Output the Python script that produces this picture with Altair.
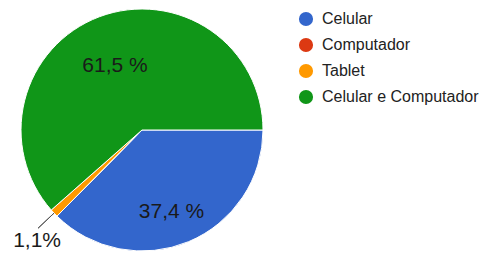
import math
import altair as alt
import pandas as pd

categories = ["Celular", "Computador", "Tablet", "Celular e Computador"]
percent = [37.4, 0.0, 1.1, 61.5]
labels = ["37,4 %", "", "1,1%", "61,5 %"]
colors = ["#3366cc", "#dc3912", "#ff9900", "#109618"]

df = pd.DataFrame({"cat": categories, "pct": percent, "label": labels, "order": list(range(4))})
df["end"] = df["pct"].cumsum() / 100
df["start"] = df["end"] - df["pct"] / 100
df["mid"] = (df["start"] + df["end"]) / 2

CX, CY, R = 134, 122, 121
theta_scale = alt.Scale(domain=[0, 1], range=[math.pi / 2, math.pi / 2 + 2 * math.pi])
color = alt.Color("cat:N", scale=alt.Scale(domain=categories, range=colors),
                  sort=categories,
                  legend=alt.Legend(title=None, orient="none", legendX=290, legendY=3,
                                    symbolType="circle", symbolSize=200, symbolStrokeWidth=0,
                                    labelFontSize=16, labelFont="Liberation Sans",
                                    labelColor="#222222", rowPadding=10, labelOffset=8,
                                    padding=0))

base = alt.Chart(df)

pie = base.mark_arc(outerRadius=R, stroke="white", strokeWidth=1).encode(
    x=alt.value(CX), y=alt.value(CY),
    theta=alt.Theta("start:Q", scale=theta_scale),
    theta2="end:Q",
    color=color,
)

leader = base.transform_filter("datum.cat == 'Tablet'").mark_arc(
    radius=R, radius2=143, stroke="#555555", strokeWidth=1, fillOpacity=0
).encode(
    x=alt.value(CX), y=alt.value(CY),
    theta=alt.Theta("mid:Q", scale=theta_scale),
    theta2="mid:Q",
)

def label_layer(cat, r, dx=0, dy=0):
    return base.transform_filter(f"datum.cat == '{cat}'").mark_text(
        radius=r, dx=dx, dy=dy, fontSize=21, font="Liberation Sans", color="#1a1a1a",
        align="center", baseline="middle"
    ).encode(
        x=alt.value(CX), y=alt.value(CY),
        theta=alt.Theta("mid:Q", scale=theta_scale),
        text="label:N",
    )

chart = alt.layer(
    pie, leader,
    label_layer("Celular e Computador", 68, -3, 0),
    label_layer("Celular", 87, -4, 2),
    label_layer("Tablet", 154, 7, 5),
).properties(width=472, height=246, autosize="none", padding=0,
             background="white").configure_view(stroke=None)

chart.save("out.html", embed_options={"renderer": "svg", "actions": False})
